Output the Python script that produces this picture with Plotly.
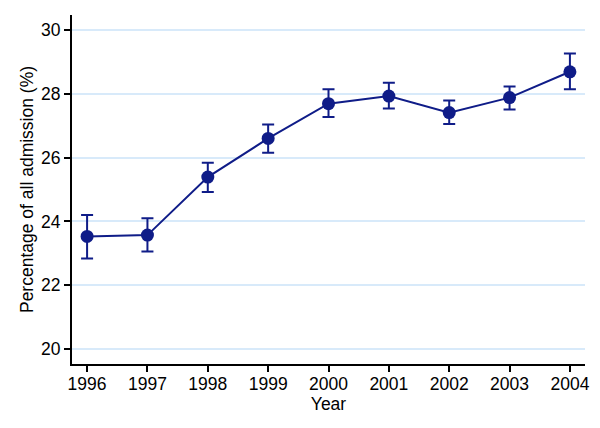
"""Admissions share by year with error bars."""

import plotly.graph_objects as go

years = [1996, 1997, 1998, 1999, 2000, 2001, 2002, 2003, 2004]
pct = [23.53, 23.57, 25.39, 26.60, 27.69, 27.93, 27.41, 27.88, 28.69]
upper = [24.20, 24.10, 25.84, 27.04, 28.14, 28.35, 27.79, 28.23, 29.26]
lower = [22.84, 23.06, 24.92, 26.15, 27.27, 27.54, 27.05, 27.51, 28.14]

y_ticks = [20, 22, 24, 26, 28, 30]

NAVY = "#0f1c88"
GRID = "#d8eafa"
FONT = "Liberation Sans, Arial, sans-serif"

err_plus = [u - p for u, p in zip(upper, pct)]
err_minus = [p - l for p, l in zip(pct, lower)]

fig = go.Figure()

fig.add_trace(
    go.Scatter(
        x=years,
        y=pct,
        mode="lines+markers",
        line=dict(color=NAVY, width=2),
        marker=dict(color=NAVY, size=13),
        error_y=dict(
            type="data",
            symmetric=False,
            array=err_plus,
            arrayminus=err_minus,
            color=NAVY,
            thickness=2,
            width=6,
        ),
        showlegend=False,
    )
)

# page body keeps its default 8px margin, so size the figure to fit the window
fig.update_layout(
    width=592,
    height=420,
    margin=dict(l=64, r=15, t=7, b=64),
    plot_bgcolor="white",
    paper_bgcolor="white",
    font=dict(family=FONT, size=17.5, color="black"),
)

fig.update_xaxes(
    range=[1995.75, 2004.25],
    tickvals=years,
    ticks="outside",
    ticklen=6,
    tickwidth=2,
    tickcolor="black",
    ticklabelstandoff=-3,
    showline=True,
    linecolor="black",
    linewidth=2,
    showgrid=False,
    zeroline=False,
    automargin=False,
    title=dict(text="Year", font=dict(size=17.5), standoff=0),
)

fig.update_yaxes(
    range=[19.53, 30.47],
    tickvals=y_ticks,
    ticks="outside",
    ticklen=6,
    tickwidth=2,
    tickcolor="black",
    showline=True,
    linecolor="black",
    linewidth=2,
    showgrid=True,
    gridcolor=GRID,
    gridwidth=1.5,
    zeroline=False,
    automargin=False,
    title=dict(text="Percentage of all admission (%)", font=dict(size=17.5), standoff=3),
)

fig.write_html("out.html")
